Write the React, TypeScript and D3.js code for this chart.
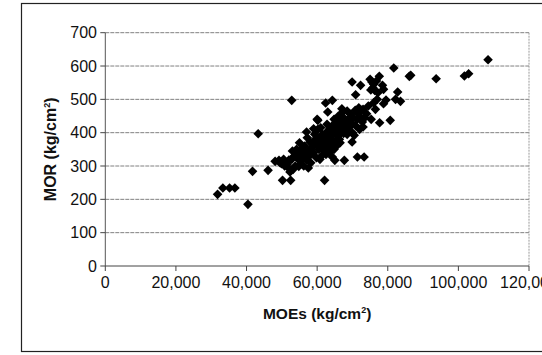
import React from "react";
import * as d3 from "d3";

// MOEs in thousands kg/cm², MOR in kg/cm²
const moeK: number[] = [
  31.8, 33.3, 35.2, 36.7, 40.4, 41.7, 43.3, 46.1, 48.1, 49.2, 49.9, 50.2, 52.8, 52.3, 52.5, 62.1, 65.0, 67.7, 71.4, 73.3,
  81.7, 86.1, 86.5, 93.7, 101.7, 102.9, 108.4, 62.4, 64.3, 69.9, 70.9, 72.3, 77.6, 80.7, 77.7, 75.3, 82.8, 83.6, 82.2, 78.8,
  76.5, 79.5, 60.0, 57.0, 57.5, 54.8, 64.3, 67.0, 67.3, 69.9, 69.9, 70.5, 73.0, 72.5, 74.0,
  75.0, 75.5, 76.0, 75.8, 76.3, 77.2, 78.5, 78.8, 76.8, 75.2,
  70.8, 71.5, 72.0, 71.2, 72.8, 73.5, 70.2, 71.8, 74.5, 76.0, 77.0, 73.0,
  50.5, 51.0, 51.5, 52.0, 53.0, 53.5, 54.0, 54.5, 55.0, 55.5, 56.0, 56.5, 57.0, 57.5, 57.8, 58.0, 58.5, 59.0, 59.3, 59.5,
  60.0, 60.2, 60.5, 60.8, 61.0, 61.2, 61.5, 61.8, 62.0, 62.2, 62.5, 62.8, 63.0, 63.2, 63.5, 63.8, 64.0, 64.2, 64.5, 64.8,
  65.0, 65.2, 65.5, 65.8, 66.0, 66.3, 66.5, 66.8, 67.0, 67.5, 67.8, 68.0, 68.5, 68.8, 69.0, 69.5, 58.2, 59.8, 56.2, 55.3,
  53.8, 60.8, 62.5, 63.5, 64.0, 65.5, 66.5, 57.2, 58.8, 61.0, 60.2, 59.0, 62.8, 64.8, 63.0, 67.5, 68.5, 66.0, 70.0, 71.0,
  72.0, 55.0, 56.8, 54.2, 52.8, 53.2, 51.8, 50.8, 49.5,
];
const morVals: number[] = [
  215, 234, 234, 234, 185, 284, 397, 287, 314, 317, 307, 257, 497, 282, 257, 257, 317, 317, 327, 327,
  594, 569, 572, 562, 570, 577, 619, 489, 497, 552, 514, 542, 569, 437, 430, 440, 522, 494, 500, 487,
  470, 498, 440, 402, 294, 299, 327, 472, 462, 427, 372, 392, 417, 467, 457,
  560, 552, 545, 535, 527, 520, 542, 530, 555, 528,
  467, 460, 450, 440, 432, 445, 445, 475, 480, 490, 500, 470,
  320, 312, 305, 318, 345, 330, 335, 322, 340, 350, 330, 360, 318, 345, 330, 372, 355, 340, 395, 380,
  365, 410, 350, 385, 372, 330, 395, 360, 380, 345, 400, 370, 390, 355, 410, 380, 365, 420, 395, 350,
  405, 375, 425, 390, 410, 380, 435, 400, 420, 445, 410, 430, 395, 440, 415, 455, 310, 325, 300, 315,
  300, 320, 335, 340, 380, 360, 370, 385, 365, 415, 437, 412, 425, 440, 462, 398, 465, 450, 400, 420,
  410, 370, 340, 350, 320, 290, 295, 300, 310,
];
const xTicks: number[] = [0, 20000, 40000, 60000, 80000, 100000, 120000];
const yTicks: number[] = [0, 100, 200, 300, 400, 500, 600, 700];

const points = moeK.map((m, i) => ({ x: m * 1000, y: morVals[i] }));

export default function App() {
  const W = 542, H = 355;
  const left = 105.3, right = 529, top = 32.7, bottom = 266;
  const x = d3.scaleLinear().domain([0, 120000]).range([left, right]);
  const y = d3.scaleLinear().domain([0, 700]).range([bottom, top]);
  const fmt = d3.format(",");
  const font = "Arial, 'Liberation Sans', sans-serif";
  const diamond = (s: number) => `M0,${-s}L${s},0L0,${s}L${-s},0Z`;

  return (
    <div style={{ position: "absolute", left: 0, top: 0 }}>
      <svg width={W} height={H} style={{ display: "block", background: "#fff" }}>
        <rect x={21.5} y={3.5} width={560} height={348} fill="none" stroke="#222" strokeWidth={1.2} />
        {/* gridlines */}
        {yTicks.filter((t) => t > 0).map((t) => (
          <line key={"g" + t} x1={left} x2={right} y1={y(t)} y2={y(t)} stroke="#808080" strokeWidth={1} strokeDasharray="4,1" />
        ))}
        {/* right border of plot */}
        <line x1={right} x2={right} y1={top} y2={bottom} stroke="#999" strokeWidth={1} strokeDasharray="2,1" />
        {/* axes */}
        <line x1={left} x2={left} y1={top} y2={bottom} stroke="#555" strokeWidth={1} />
        <line x1={left} x2={right} y1={bottom} y2={bottom} stroke="#444" strokeWidth={1} />
        {yTicks.map((t) => (
          <g key={"y" + t}>
            <line x1={left - 5} x2={left} y1={y(t)} y2={y(t)} stroke="#444" />
            <text x={97} y={y(t)} dy="0.35em" textAnchor="end" fontFamily={font} fontSize={16} fill="#111">
              {t}
            </text>
          </g>
        ))}
        {xTicks.map((t) => (
          <g key={"x" + t}>
            <line x1={x(t)} x2={x(t)} y1={bottom} y2={bottom + 5} stroke="#444" />
            <text x={x(t)} y={288} textAnchor="middle" fontFamily={font} fontSize={16} fill="#111">
              {fmt(t)}
            </text>
          </g>
        ))}
        {/* points */}
        {points.map((p, i) => (
          <path key={i} d={diamond(4.8)} transform={`translate(${x(p.x)},${y(p.y)})`} fill="#000" />
        ))}
        {/* axis titles */}
        <text x={(left + right) / 2} y={319} textAnchor="middle" fontFamily={font} fontSize={15.5} fontWeight="bold" fill="#111">
          MOEs (kg/cm<tspan dy={-6} fontSize={9}>2</tspan><tspan dy={6}>)</tspan>
        </text>
        <text transform={`translate(56,${(top + bottom) / 2}) rotate(-90)`} textAnchor="middle" fontFamily={font} fontSize={16} fontWeight="bold" fill="#111">
          MOR (kg/cm<tspan dy={-6} fontSize={9}>2</tspan><tspan dy={6}>)</tspan>
        </text>
      </svg>
    </div>
  );
}
